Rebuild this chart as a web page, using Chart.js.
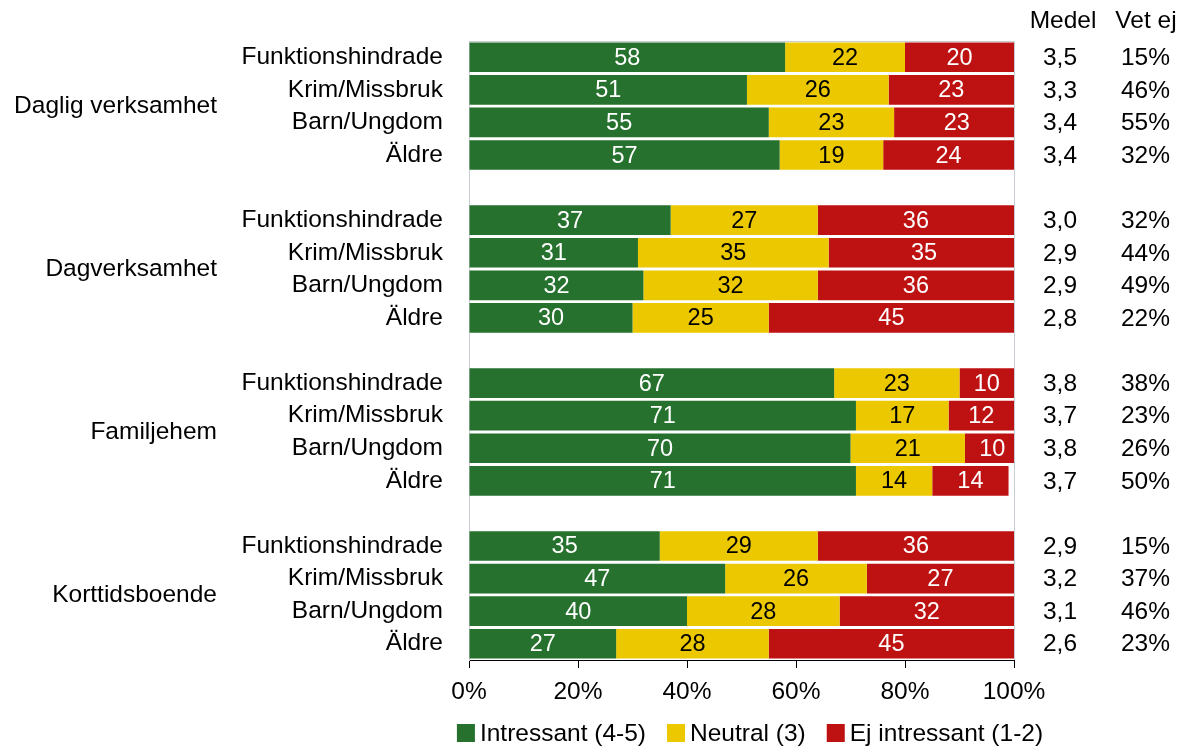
<!DOCTYPE html>
<html><head><meta charset="utf-8">
<script src="https://cdn.jsdelivr.net/npm/chart.js@4/dist/chart.umd.min.js"></script>
<style>html,body{margin:0;padding:0;background:#fff;overflow:hidden}#wrap{width:1187px;height:748px;position:relative}</style>
</head><body><div id="wrap"><canvas id="c" width="1187" height="748"></canvas></div>
<script>
const groups = ['Daglig verksamhet', 'Dagverksamhet', 'Familjehem', 'Korttidsboende'];
const subgroups = ['Funktionshindrade', 'Krim/Missbruk', 'Barn/Ungdom', 'Äldre'];
const intressant   = [58, 51, 55, 57,  37, 31, 32, 30,  67, 71, 70, 71,  35, 47, 40, 27];
const neutral      = [22, 26, 23, 19,  27, 35, 32, 25,  23, 17, 21, 14,  29, 26, 28, 28];
const ejIntressant = [20, 23, 23, 24,  36, 35, 36, 45,  10, 12, 10, 14,  36, 27, 32, 45];
const medel = ['3,5', '3,3', '3,4', '3,4',  '3,0', '2,9', '2,9', '2,8',  '3,8', '3,7', '3,8', '3,7',  '2,9', '3,2', '3,1', '2,6'];
const vetEj = ['15%', '46%', '55%', '32%',  '32%', '44%', '49%', '22%',  '38%', '23%', '26%', '50%',  '15%', '37%', '46%', '23%'];
const xTickLabels = ['0%', '20%', '40%', '60%', '80%', '100%'];
const seriesNames = ['Intressant (4-5)', 'Neutral (3)', 'Ej intressant (1-2)'];
const columnHeaders = ['Medel', 'Vet ej'];

const COLORS = ['#25712d', '#ebc800', '#be1111'];
const LABEL_COLORS = ['#ffffff', '#000000', '#ffffff'];
const FONT = "'Liberation Sans', Arial, sans-serif";
const FS = 24.5;

// Build category list with an empty slot between groups
const categories = [];
const rowIndex = []; // category index for each data row
groups.forEach((g, gi) => {
  if (gi > 0) categories.push('');
  subgroups.forEach(s => { rowIndex.push(categories.length); categories.push(s); });
});
function expand(arr) {
  const out = categories.map(() => null);
  arr.forEach((v, i) => { out[rowIndex[i]] = v; });
  return out;
}
const series = [intressant, neutral, ejIntressant];

const extras = {
  id: 'extras',
  beforeDatasetsDraw(chart) {
    const { ctx, chartArea: a } = chart;
    ctx.save();
    ctx.strokeStyle = '#c8ccd4';
    ctx.lineWidth = 1;
    ctx.beginPath();
    ctx.moveTo(a.left, a.top + 0.5); ctx.lineTo(a.right + 0.5, a.top + 0.5);
    ctx.lineTo(a.right + 0.5, a.bottom);
    ctx.stroke();
    ctx.restore();
  },
  afterDatasetsDraw(chart) {
    const { ctx } = chart;
    const y = chart.scales.y;
    ctx.save();
    // data labels
    ctx.font = '23.5px ' + FONT;
    ctx.textAlign = 'center';
    ctx.textBaseline = 'middle';
    chart.data.datasets.forEach((ds, di) => {
      const meta = chart.getDatasetMeta(di);
      meta.data.forEach((el, i) => {
        const v = ds.data[i];
        if (v === null || v === undefined) return;
        ctx.fillStyle = LABEL_COLORS[di];
        ctx.fillText(String(v), (el.x + el.base) / 2, el.y + 1);
      });
    });
    // group labels
    ctx.font = FS + 'px ' + FONT;
    ctx.fillStyle = '#000';
    ctx.textAlign = 'right';
    groups.forEach((g, gi) => {
      const yp = (y.getPixelForValue(rowIndex[gi * 4 + 1]) + y.getPixelForValue(rowIndex[gi * 4 + 2])) / 2;
      ctx.fillText(g, 217, yp);
    });
    // right columns
    ctx.textAlign = 'center';
    ctx.fillText(columnHeaders[0], 1063, 21);
    ctx.fillText(columnHeaders[1], 1146, 21);
    rowIndex.forEach((ci, i) => {
      const yp = y.getPixelForValue(ci) + 1;
      ctx.textAlign = 'center';
      ctx.fillText(medel[i], 1060, yp);
      ctx.textAlign = 'right';
      ctx.fillText(vetEj[i], 1170, yp);
    });
    // legend
    ctx.textAlign = 'left';
    const box = 18, gapText = 5, gapItem = 21;
    const widths = seriesNames.map(n => ctx.measureText(n).width);
    const total = widths.reduce((s, w) => s + box + gapText + w, 0) + gapItem * (seriesNames.length - 1);
    let x = 750 - total / 2;
    const ly = 733;
    seriesNames.forEach((n, i) => {
      ctx.fillStyle = COLORS[i];
      ctx.fillRect(x, ly - box / 2, box, box);
      ctx.fillStyle = '#000';
      ctx.fillText(n, x + box + gapText, ly + 1);
      x += box + gapText + widths[i] + gapItem;
    });
    ctx.restore();
  }
};

new Chart(document.getElementById('c'), {
  type: 'bar',
  data: {
    labels: categories,
    datasets: series.map((s, i) => ({
      label: seriesNames[i],
      data: expand(s),
      backgroundColor: COLORS[i],
      borderWidth: 0,
      barPercentage: 0.91,
      categoryPercentage: 1.0
    }))
  },
  options: {
    indexAxis: 'y',
    responsive: false,
    animation: false,
    devicePixelRatio: 1,
    layout: { padding: { top: 41, right: 173, left: 0, bottom: 0 } },
    plugins: { legend: { display: false }, tooltip: { enabled: false }, title: { display: false } },
    scales: {
      x: {
        stacked: true, min: 0, max: 100,
        ticks: { stepSize: 20, color: '#000', font: { family: FONT, size: FS }, padding: 10,
                 callback: (v) => xTickLabels[Math.round(v / 20)] },
        grid: { drawOnChartArea: false, drawTicks: true, tickLength: 8, color: '#000' },
        border: { color: '#000', width: 1 },
        afterFit(s) { s.height = 88; }
      },
      y: {
        stacked: true, offset: true,
        ticks: { color: '#000', font: { family: FONT, size: FS }, padding: 18, autoSkip: false },
        grid: { display: false },
        border: { color: '#c8ccd4', width: 1 },
        afterFit(s) { s.width = 469; }
      }
    }
  },
  plugins: [extras]
});
</script></body></html>
